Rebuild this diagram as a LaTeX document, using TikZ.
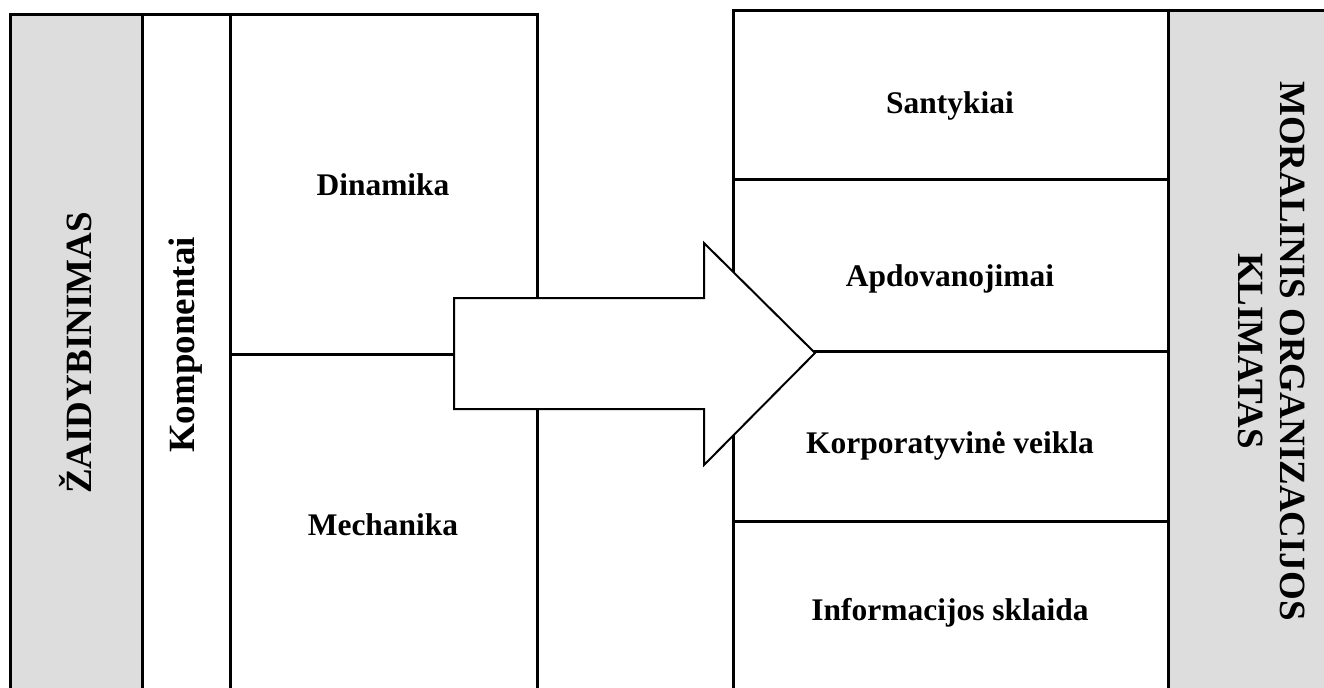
\documentclass[tikz,border=0pt]{standalone}
\usepackage{fontspec}
\setmainfont{Liberation Serif}
\begin{document}
\begin{tikzpicture}[x=0.75pt,y=-0.75pt,
  grid/.style={line width=2.25pt,line join=miter},
  shade/.style={fill=panelgrey},
  lbl/.style={font=\fontsize{23.6}{28}\selectfont\bfseries,align=center,inner sep=0pt},
  biglbl/.style={font=\fontsize{27.75}{31.5}\selectfont\bfseries,align=center,inner sep=0pt},
  bigarrow/.style={fill=white,draw=black,line width=1.5pt,line join=miter}]
\definecolor{panelgrey}{HTML}{DDDDDD}
\useasboundingbox (0,0) rectangle (1324,687);
\clip (0,0) rectangle (1324,687);

% left table: grey title column, components column, two stacked cells
\fill[shade] (10,14) rectangle (142,700);
\draw[grid] (10,700) -- (10,14) -- (537,14) -- (537,700);
\draw[grid] (142,14) -- (142,700);
\draw[grid] (230,14) -- (230,700);
\draw[grid] (230,354) -- (537,354);

% right table: four rows plus grey title column
\fill[shade] (1168,10) rectangle (1330,700);
\draw[grid] (733,700) -- (733,10) -- (1330,10);
\draw[grid] (1168,10) -- (1168,700);
\draw[grid] (733,179) -- (1168,179);
\draw[grid] (733,351) -- (1168,351);
\draw[grid] (733,521) -- (1168,521);

% labels
\node[biglbl,rotate=90] (zaid) at (76,353) {ŽAIDYBINIMAS};
\node[biglbl,rotate=90] (komp) at (186,345) {Komponentai};
\node[lbl] (dina) at (383,185) {Dinamika};
\node[lbl] (mech) at (383,525) {Mechanika};
\node[lbl] (sant) at (950,106) {Santykiai};
\node[lbl] (apdo) at (950,279) {Apdovanojimai};
\node[lbl] (korp) at (950,446) {Korporatyvinė veikla};
\node[lbl] (info) at (950,613) {Informacijos sklaida};
\node[biglbl,rotate=-90] (moral) at (1272,351) {MORALINIS ORGANIZACIJOS\\KLIMATAS};

% block arrow from the components to the climate factors
\draw[bigarrow] (454,298) -- (704,298) -- (704,243) -- (815,353)
  -- (704,465) -- (704,409) -- (454,409) -- cycle;
\end{tikzpicture}
\end{document}
